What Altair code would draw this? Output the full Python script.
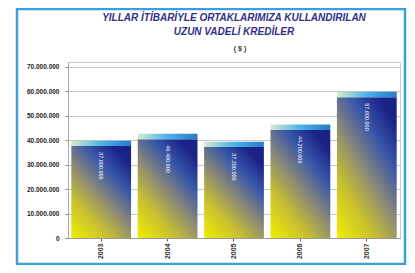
import altair as alt
import pandas as pd

years = ["2003", "2004", "2005", "2006", "2007"]
values = [37600000, 40400000, 37200000, 44200000, 57600000]
y_ticks = [0, 10000000, 20000000, 30000000, 40000000, 50000000, 60000000, 70000000]

df = pd.DataFrame({"year": years, "value": values})

bar_grad = alt.Gradient(
    gradient="linear", x1=0, y1=1, x2=0.7, y2=0,
    stops=[
        alt.GradientStop(offset=0, color="#f2ee00"),
        alt.GradientStop(offset=0.3, color="#c8c030"),
        alt.GradientStop(offset=0.55, color="#8a8878"),
        alt.GradientStop(offset=0.78, color="#3a58a8"),
        alt.GradientStop(offset=1, color="#1a2288"),
    ],
)
cap_grad = alt.Gradient(
    gradient="linear", x1=0, y1=0, x2=1, y2=0,
    stops=[
        alt.GradientStop(offset=0, color="#d8ecc8"),
        alt.GradientStop(offset=0.5, color="#48b4e8"),
        alt.GradientStop(offset=1, color="#2a78c8"),
    ],
)

dot_fmt = "join(split(format(datum.value, ','), ','), '.')"

x = alt.X(
    "year:N",
    scale=alt.Scale(paddingInner=0.1, paddingOuter=0.05),
    axis=alt.Axis(title=None, labelAngle=-90, labelFontSize=7, labelFontWeight="bold",
                  labelColor="#333333", domainColor="#999999", tickColor="#666666",
                  tickSize=3, labelPadding=2),
)
y = alt.Y(
    "value:Q",
    scale=alt.Scale(domain=[0, 72000000], nice=False),
    axis=alt.Axis(values=y_ticks, labelExpr=dot_fmt, title=None, labelFontSize=6.5,
                  labelFontWeight="bold", labelColor="#222222", grid=True,
                  gridColor="#c8c8c8", domainColor="#aaaaaa", tickColor="#888888",
                  tickSize=3, labelPadding=6),
)

base = alt.Chart(df).transform_calculate(
    top="datum.value + 2200000",
    lbl=dot_fmt,
)
bars = base.mark_bar(color=bar_grad).encode(x=x, y=y)
caps = base.mark_bar(color=cap_grad).encode(x=x, y=y, y2="top:Q")
labels = base.mark_text(angle=90, align="left", baseline="middle", color="white",
                        fontSize=5.5, dx=6).encode(x=x, y=y, text="lbl:N")

frame = alt.Chart(pd.DataFrame({"a": [0]})).mark_rect(
    fill="transparent", stroke="#3aa0dc", strokeWidth=2.5
).encode(x=alt.value(-51), x2=alt.value(337), y=alt.value(-53), y2=alt.value(202))

title1 = alt.Chart(pd.DataFrame({"t": ["YILLAR İTİBARİYLE ORTAKLARIMIZA KULLANDIRILAN"]})).mark_text(
    fontSize=10, fontStyle="italic", fontWeight="bold", color="#33308a", align="center", baseline="middle"
).encode(text="t:N", x=alt.value(166), y=alt.value(-44))
title2 = alt.Chart(pd.DataFrame({"t": ["UZUN VADELİ KREDİLER"]})).mark_text(
    fontSize=10, fontStyle="italic", fontWeight="bold", color="#33308a", align="center", baseline="middle"
).encode(text="t:N", x=alt.value(166), y=alt.value(-30))
title3 = alt.Chart(pd.DataFrame({"t": ["( $ )"]})).mark_text(
    fontSize=7, fontWeight="bold", color="#333333", align="center", baseline="middle"
).encode(text="t:N", x=alt.value(172), y=alt.value(-13))

chart = alt.layer(bars, caps, labels, frame, title1, title2, title3).properties(
    width=332,
    height=176,
    autosize=alt.AutoSizeParams(type="none"),
    padding={"left": 60, "top": 54, "right": 7, "bottom": 27},
).configure(
    font="Liberation Sans",
).configure_view(stroke="#cccccc")

chart.save("out.html", embed_options={"renderer": "svg", "actions": False})
